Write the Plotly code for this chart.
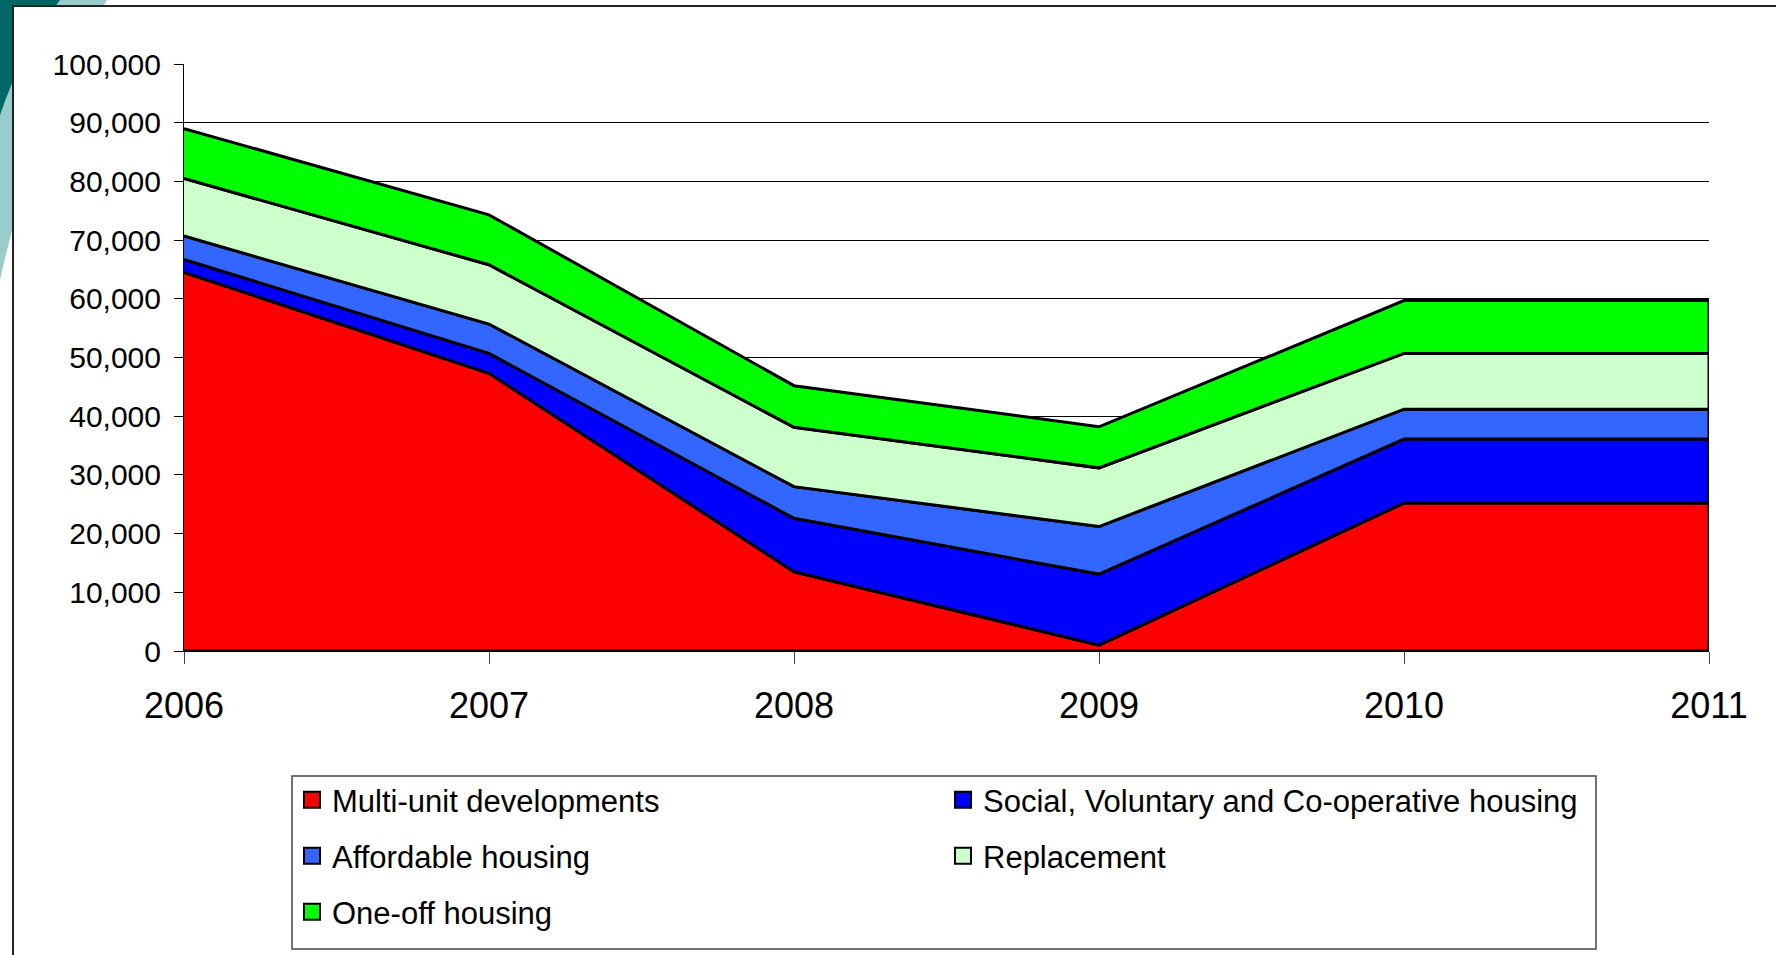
import numpy as np
import plotly.graph_objects as go

# values (units, stacked bottom -> top)
years = [2006, 2007, 2008, 2009, 2010, 2011]
multi_unit = [64500, 47300, 13500, 1000, 25200, 25200]
social = [2200, 3400, 9100, 12100, 10900, 10900]
affordable = [4000, 5000, 5400, 8100, 5100, 5100]
replacement = [9800, 10100, 10100, 10000, 9500, 9500]
one_off = [8500, 8500, 7100, 7000, 9000, 9000]

series_names = ["Multi-unit developments",
                "Social, Voluntary and Co-operative housing",
                "Affordable housing",
                "Replacement",
                "One-off housing"]
series_values = [multi_unit, social, affordable, replacement, one_off]
series_colors = ["#FF0000", "#0000FF", "#3366FF", "#CCFFCC", "#00FF00"]
legend_rows = ["legend", "legend", "legend2", "legend2", "legend3"]

y_ticks = list(range(0, 100001, 10000))

FONT = "Liberation Sans, Arial, sans-serif"
W, H = 1776, 955
PLOT_L, PLOT_R, PLOT_T, PLOT_B = 184, 1709, 64, 651


def px_x(px):
    """pixel x -> paper x"""
    return (px - PLOT_L) / (PLOT_R - PLOT_L)


def px_y(py):
    """pixel y -> paper y"""
    return (PLOT_B - py) / (PLOT_B - PLOT_T)


fig = go.Figure()

# each band drawn as a closed polygon so it gets an outline all round, like Excel
stack = np.cumsum(np.array(series_values), axis=0)
for i, name in enumerate(series_names):
    top = stack[i]
    bottom = stack[i - 1] if i > 0 else np.zeros(len(years))
    fig.add_trace(go.Scatter(
        x=years + years[::-1],
        y=list(top) + list(bottom[::-1]),
        fill="toself",
        fillcolor=series_colors[i],
        line=dict(color="black", width=3),
        mode="lines",
        name=name,
        showlegend=False,
        hoverinfo="skip",
    ))

# legend-only entries with square swatches
for i, name in enumerate(series_names):
    fig.add_trace(go.Scatter(
        x=[None], y=[None],
        mode="markers",
        marker=dict(symbol="square", size=16, color=series_colors[i],
                    line=dict(color="black", width=2)),
        name=name,
        legend=legend_rows[i],
    ))

legend_style = dict(
    orientation="h",
    entrywidth=606,
    entrywidthmode="pixels",
    xanchor="left",
    yanchor="middle",
    x=px_x(292),
    bgcolor="rgba(0,0,0,0)",
    borderwidth=0,
    font=dict(family=FONT, size=31, color="black"),
    traceorder="normal",
)

shapes = [
    # slide decoration in the top-left corner
    dict(type="path", xref="paper", yref="paper", layer="below",
         path="M {},{} L {},{} Q {},{} {},{} Z".format(
             px_x(0), px_y(0), px_x(107), px_y(0),
             px_x(35), px_y(120), px_x(0), px_y(280)),
         fillcolor="#99CCCC", line=dict(width=0)),
    dict(type="path", xref="paper", yref="paper", layer="below",
         path="M {},{} L {},{} Q {},{} {},{} Z".format(
             px_x(0), px_y(0), px_x(60), px_y(0),
             px_x(22), px_y(50), px_x(0), px_y(115)),
         fillcolor="#006666", line=dict(width=0)),
    # chart frame
    dict(type="rect", xref="paper", yref="paper", layer="below",
         x0=px_x(13), y0=px_y(6), x1=px_x(W + 20), y1=px_y(H + 20),
         fillcolor="white", line=dict(color="#222222", width=2)),
    # legend box
    dict(type="rect", xref="paper", yref="paper",
         x0=px_x(292), y0=px_y(776), x1=px_x(1596), y1=px_y(949),
         fillcolor="rgba(0,0,0,0)", line=dict(color="#444444", width=1.5)),
]

fig.update_layout(
    width=W, height=H,
    margin=dict(l=PLOT_L, r=W - PLOT_R, t=PLOT_T, b=H - PLOT_B, pad=0),
    paper_bgcolor="white",
    plot_bgcolor="white",
    font=dict(family=FONT, color="black"),
    showlegend=True,
    legend=dict(legend_style, y=px_y(800)),
    legend2=dict(legend_style, y=px_y(856)),
    legend3=dict(legend_style, y=px_y(912)),
    shapes=shapes,
    xaxis=dict(
        range=[2006, 2011],
        tickvals=years,
        ticktext=[str(y) for y in years],
        ticks="outside", ticklen=12, tickwidth=1, tickcolor="#444444",
        tickfont=dict(family=FONT, size=36, color="black"),
        ticklabelstandoff=11,
        showgrid=False, zeroline=False,
        showline=True, linecolor="black", linewidth=1,
    ),
    yaxis=dict(
        range=[0, 100000],
        tickvals=y_ticks,
        tickformat=",",
        ticks="outside", ticklen=9, tickwidth=1, tickcolor="black",
        tickfont=dict(family=FONT, size=30, color="black"),
        ticklabelstandoff=7,
        showgrid=True, gridcolor="black", gridwidth=1,
        zeroline=False,
        showline=True, linecolor="black", linewidth=1,
    ),
)

fig.write_html("out.html", config={"displayModeBar": False},
               post_script="document.body.style.margin='0';")
